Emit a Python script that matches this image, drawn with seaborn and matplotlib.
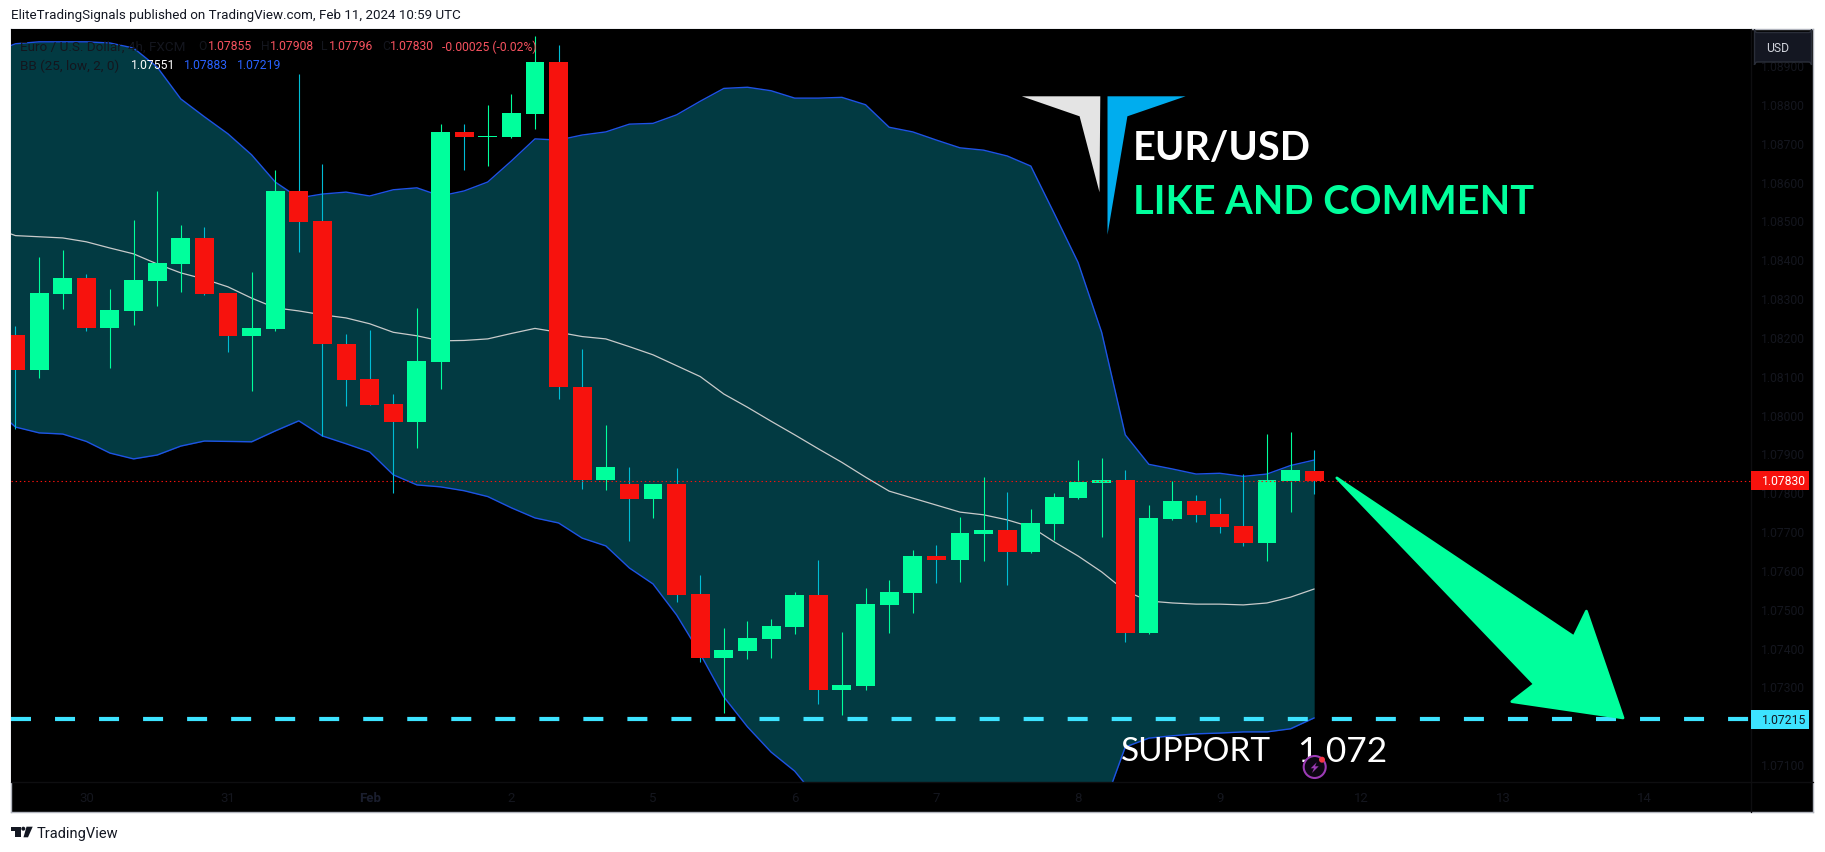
import matplotlib
matplotlib.use("Agg")
import matplotlib.pyplot as plt
from matplotlib.patches import Circle, Polygon, Rectangle, FancyBboxPatch
from matplotlib.transforms import Affine2D
import numpy as np
import pandas as pd
import seaborn as sns

# 4h EUR/USD candles
opens = [1.08205, 1.08115, 1.08311, 1.08352, 1.08224, 1.08268, 1.08344, 1.08388, 1.08455, 1.08313,
         1.08203, 1.08221, 1.08576, 1.08499, 1.08182, 1.08092, 1.08027, 1.07982, 1.08136, 1.08728,
         1.08715, 1.08715, 1.08774, 1.08908, 1.08071, 1.07832, 1.07822, 1.07783, 1.07822, 1.07538,
         1.07373, 1.07391, 1.07422, 1.07453, 1.07536, 1.07291, 1.07301, 1.07510, 1.07541, 1.07636,
         1.07626, 1.07693, 1.07703, 1.07646, 1.07718, 1.07785, 1.07824, 1.07832, 1.07438, 1.07731,
         1.07778, 1.07744, 1.07713, 1.07670, 1.07829, 1.07855]
highs = [1.08228, 1.08407, 1.08424, 1.08362, 1.08324, 1.08501, 1.08576, 1.08488, 1.08483, 1.08313,
         1.08367, 1.08630, 1.08877, 1.08646, 1.08208, 1.08218, 1.08054, 1.08275, 1.08749, 1.08749,
         1.08798, 1.08826, 1.08975, 1.08952, 1.08169, 1.07973, 1.07865, 1.07822, 1.07863, 1.07587,
         1.07451, 1.07469, 1.07474, 1.07543, 1.07626, 1.07440, 1.07554, 1.07574, 1.07651, 1.07664,
         1.07736, 1.07840, 1.07801, 1.07757, 1.07798, 1.07883, 1.07889, 1.07858, 1.07767, 1.07829,
         1.07793, 1.07786, 1.07847, 1.07950, 1.07955, 1.07908]
lows = [1.07962, 1.08095, 1.08273, 1.08216, 1.08121, 1.08232, 1.08281, 1.08317, 1.08309, 1.08162,
        1.08062, 1.08216, 1.08419, 1.07946, 1.08021, 1.08025, 1.07799, 1.07915, 1.08067, 1.08630,
        1.08640, 1.08713, 1.08736, 1.08039, 1.07809, 1.07807, 1.07675, 1.07735, 1.07518, 1.07364,
        1.07232, 1.07371, 1.07373, 1.07435, 1.07255, 1.07227, 1.07291, 1.07438, 1.07489, 1.07567,
        1.07569, 1.07623, 1.07560, 1.07644, 1.07677, 1.07783, 1.07685, 1.07415, 1.07435, 1.07729,
        1.07724, 1.07695, 1.07662, 1.07623, 1.07749, 1.07796]
closes = [1.08115, 1.08313, 1.08352, 1.08224, 1.08270, 1.08347, 1.08391, 1.08455, 1.08311, 1.08203,
          1.08223, 1.08576, 1.08496, 1.08181, 1.08090, 1.08025, 1.07982, 1.08138, 1.08728, 1.08715,
          1.08718, 1.08777, 1.08908, 1.08070, 1.07832, 1.07865, 1.07783, 1.07822, 1.07536, 1.07373,
          1.07394, 1.07425, 1.07456, 1.07536, 1.07291, 1.07304, 1.07512, 1.07543, 1.07636, 1.07626,
          1.07695, 1.07703, 1.07646, 1.07721, 1.07788, 1.07827, 1.07832, 1.07438, 1.07734, 1.07778,
          1.07742, 1.07711, 1.07670, 1.07832, 1.07858, 1.07830]

# Bollinger bands, first point sits one bar left of the first candle
bb_upper = [1.08931, 1.08955, 1.08960, 1.08960, 1.08960, 1.08957, 1.08944, 1.08895, 1.08813, 1.08767,
            1.08723, 1.08669, 1.08599, 1.08558, 1.08568, 1.08573, 1.08563, 1.08579, 1.08584, 1.08563,
            1.08576, 1.08599, 1.08653, 1.08710, 1.08707, 1.08720, 1.08728, 1.08748, 1.08750, 1.08772,
            1.08807, 1.08840, 1.08843, 1.08834, 1.08815, 1.08815, 1.08817, 1.08798, 1.08740, 1.08728,
            1.08707, 1.08687, 1.08681, 1.08666, 1.08640, 1.08517, 1.08392, 1.08212, 1.07948, 1.07872,
            1.07860, 1.07847, 1.07849, 1.07841, 1.07847, 1.07869, 1.07883]
bb_mid = [1.08483, 1.08461, 1.08458, 1.08455, 1.08445, 1.08429, 1.08414, 1.08388, 1.08365, 1.08349,
          1.08329, 1.08300, 1.08275, 1.08267, 1.08257, 1.08249, 1.08234, 1.08212, 1.08203, 1.08190,
          1.08191, 1.08195, 1.08209, 1.08222, 1.08212, 1.08201, 1.08195, 1.08175, 1.08154, 1.08126,
          1.08098, 1.08053, 1.08019, 1.07983, 1.07948, 1.07912, 1.07877, 1.07839, 1.07803, 1.07785,
          1.07767, 1.07749, 1.07742, 1.07729, 1.07711, 1.07672, 1.07636, 1.07595, 1.07546, 1.07520,
          1.07515, 1.07512, 1.07512, 1.07510, 1.07515, 1.07530, 1.07551]
bb_lower = [1.08022, 1.07968, 1.07953, 1.07950, 1.07931, 1.07901, 1.07886, 1.07896, 1.07919, 1.07932,
            1.07931, 1.07930, 1.07958, 1.07984, 1.07945, 1.07925, 1.07904, 1.07845, 1.07819, 1.07814,
            1.07804, 1.07789, 1.07760, 1.07734, 1.07721, 1.07682, 1.07662, 1.07605, 1.07564, 1.07484,
            1.07384, 1.07273, 1.07196, 1.07131, 1.07082, 1.07008, 1.06938, 1.06881, 1.06866, 1.06843,
            1.06827, 1.06812, 1.06802, 1.06791, 1.06781, 1.06827, 1.06879, 1.06977, 1.07144, 1.07167,
            1.07173, 1.07178, 1.07180, 1.07183, 1.07183, 1.07191, 1.07219]

last_price = 1.07830
support_price = 1.07215
# 1.07200 is hidden behind the support tag, so it gets no label
price_ticks = [1.071, 1.073, 1.074, 1.075, 1.076, 1.077, 1.078, 1.079, 1.080,
               1.081, 1.082, 1.083, 1.084, 1.085, 1.086, 1.087, 1.088, 1.089]
date_ticks = [3, 9, 15, 21, 27, 33, 39, 45, 51, 57, 63, 69]
date_labels = ["30", "31", "Feb", "2", "5", "6", "7", "8", "9", "12", "13", "14"]
# drawn arrow, (bar, price) anchors
arrow_bars = [55.96, 66.0, 66.53, 68.08, 63.37, 64.33]
arrow_prices = [1.07837, 1.07428, 1.07494, 1.07219, 1.07261, 1.07306]

GREEN = "#00ff9c"
RED = "#f7120d"
CYAN_WICK = "#00bcd4"
FILL = "#023a42"
BAND = "#1e53e5"
FAINT = "#14161e"
HEAD_FONT = ["Lato", "DejaVu Sans"]
W, H = 1825, 853

sns.set_theme(style="dark")
plt.rcParams["font.family"] = ["Roboto", "DejaVu Sans"]
plt.rcParams["lines.scale_dashes"] = False

fig = plt.figure(figsize=(W / 100, H / 100), dpi=100, facecolor="white")
px = Affine2D().scale(1, -1).translate(0, H)  # picture pixels for the overlays


def box(x0, y0, x1, y1):
    return [x0 / W, 1 - y1 / H, (x1 - x0) / W, (y1 - y0) / H]


frame = fig.add_axes(box(11, 30, 1813, 813), facecolor="black", zorder=0)
frame.set_xticks([])
frame.set_yticks([])
for s in frame.spines.values():
    s.set_color("#b2b5be")
    s.set_linewidth(1)

ax = fig.add_axes(box(11, 30, 1751, 783), facecolor="black", zorder=1)
bars = np.arange(len(opens))
band_x = np.arange(-1, len(opens))
bands = pd.DataFrame({"bar": band_x, "upper": bb_upper, "mid": bb_mid, "lower": bb_lower})

ax.fill_between(band_x, bb_lower, bb_upper, color=FILL, lw=0, zorder=1)
sns.lineplot(data=bands, x="bar", y="upper", color=BAND, lw=1.0, ax=ax, zorder=2, estimator=None)
sns.lineplot(data=bands, x="bar", y="lower", color=BAND, lw=1.0, ax=ax, zorder=2, estimator=None)
sns.lineplot(data=bands, x="bar", y="mid", color="#c8caca", lw=0.9, ax=ax, zorder=2, estimator=None)

o, h, l, c = map(np.array, (opens, highs, lows, closes))
up = c >= o
ax.vlines(bars, l, h, colors=np.where(up, GREEN, CYAN_WICK).tolist(), lw=0.8, zorder=3)
ax.bar(bars, np.abs(c - o), bottom=np.minimum(o, c), width=0.8,
       color=np.where(up, GREEN, RED).tolist(), lw=0, zorder=4)

ax.axhline(last_price, color=RED, lw=0.8, ls=(0, (1, 2)), zorder=5)
ax.axhline(support_price, color="#3de3ff", lw=3, ls=(0, (14.4, 17.3)), zorder=5,
           dash_capstyle="butt")
ax.add_patch(Polygon(np.column_stack([arrow_bars, arrow_prices]), closed=True, fc=GREEN, ec=GREEN,
                     lw=2, joinstyle="round", zorder=6))

ax.set_xlim(-0.19, 73.5)
ax.set_ylim(1.07054, 1.08993)
ax.set_xlabel("")
ax.set_ylabel("")
ax.grid(False)
for s in ax.spines.values():
    s.set_visible(False)
ax.yaxis.tick_right()
ax.set_yticks(price_ticks)
ax.set_yticklabels([f"{t:.5f}" for t in price_ticks], fontsize=8.7, color=FAINT)
ax.set_xticks(date_ticks)
ax.set_xticklabels(date_labels, fontsize=9.5, color=FAINT)
ax.tick_params(axis="y", length=0, pad=7.5)
ax.tick_params(axis="x", length=0, pad=6.5)
ax.get_xticklabels()[2].set_fontweight("bold")
ax.get_xticklabels()[2].set_color("#1a1e2e")

# faint pane separators
fig.add_artist(plt.Line2D([1751, 1751], [30, 813], color="#0e0e10", lw=1, transform=px))
fig.add_artist(plt.Line2D([11, 1813], [783, 783], color="#0e0e10", lw=1, transform=px))


def txt(x, y, s, color, size=8.7, **kw):
    kw.setdefault("va", "center")
    fig.text(x, y, s, color=color, fontsize=size, transform=px, zorder=20, **kw)


def poly(points, color, **kw):
    fig.add_artist(Polygon(points, closed=True, fc=color, ec="none", transform=px, zorder=15, **kw))


# header and footer
txt(11, 16, "EliteTradingSignals published on TradingView.com, Feb 11, 2024 10:59 UTC", "#131722", 9.6)
poly([(11, 827.7), (20.7, 827.7), (20.7, 838.3), (14.7, 838.3), (14.7, 831.7), (11, 831.7)], "#131722")
poly([(26.5, 827.7), (32.7, 827.7), (28, 838.3), (23.5, 838.3)], "#131722")
fig.add_artist(Circle((23.3, 829.7), 2, fc="#131722", ec="none", transform=px, zorder=15))
txt(36.7, 834, "TradingView", "#131722", 10.5)

# legend rows
LEG_RED = "#f7525f"
LEG_BLUE = "#2962ff"
txt(20, 47, "Euro / U.S. Dollar, 4h, FXCM", FAINT, 9.7)
for x, s, col in [(198, "O", FAINT), (207.6, "1.07855", LEG_RED), (261, "H", FAINT), (269.7, "1.07908", LEG_RED),
                  (321, "L", FAINT), (329, "1.07796", LEG_RED), (382, "C", FAINT), (389.5, "1.07830", LEG_RED),
                  (442, "-0.00025 (-0.02%)", LEG_RED)]:
    txt(x, 47, s, col)
txt(20, 66, "BB (25, low, 2, 0)", FAINT, 9.7)
txt(130.5, 66, "1.07551", "white")
txt(184, 66, "1.07883", LEG_BLUE)
txt(236.5, 66, "1.07219", LEG_BLUE)

# USD button and price tags
fig.add_artist(FancyBboxPatch((1754.5, 33.5), 57, 29.5, boxstyle="round,pad=0,rounding_size=3", fc="#141722",
                              ec="#2a2e39", lw=1, transform=px, mutation_aspect=-1, zorder=15))
txt(1765.7, 49, "USD", "#d1d4dc")
fig.add_artist(Rectangle((1751, 472), 58, 19, fc=RED, ec="none", transform=px, zorder=15))
txt(1761.7, 481.5, f"{last_price:.5f}", "white")
fig.add_artist(Rectangle((1751, 711), 58, 19, fc="#3de3ff", ec="none", transform=px, zorder=15))
txt(1761.7, 720.5, f"{support_price:.5f}", "#131722")

# logo and drawn labels
poly([(1021.8, 97.3), (1100.3, 97.3), (1099.5, 193.3), (1079.6, 117.3)], "#e4e4e4")
poly([(1107.5, 97.3), (1185.6, 97.3), (1127.4, 117.3), (1107.5, 235.7)], "#00adee")
txt(1133, 149, "EUR/USD", "white", 28.5, family=HEAD_FONT, weight="bold")
txt(1133, 203, "LIKE AND COMMENT", GREEN, 28.5, family=HEAD_FONT, weight="bold")
txt(1121, 752, "SUPPORT", "white", 24, family=HEAD_FONT)
txt(1297, 752, "1.072", "white", 25.5, family=HEAD_FONT)

# flash icon
fig.add_artist(Circle((1314.7, 768), 11, fc="#0c0612", ec="#9c3bb5", lw=1.5, transform=px, zorder=21))
fig.add_artist(Circle((1322, 760.7), 3, fc="#f23645", ec="none", transform=px, zorder=22))
poly([(1316.7, 763.3), (1310.7, 769.3), (1314, 769.3), (1312, 774), (1318.7, 767.3), (1315, 767.3)], "#9c3bb5")
fig.artists[-1].set_zorder(22)

fig.savefig("out.png", dpi=100, facecolor="white")
